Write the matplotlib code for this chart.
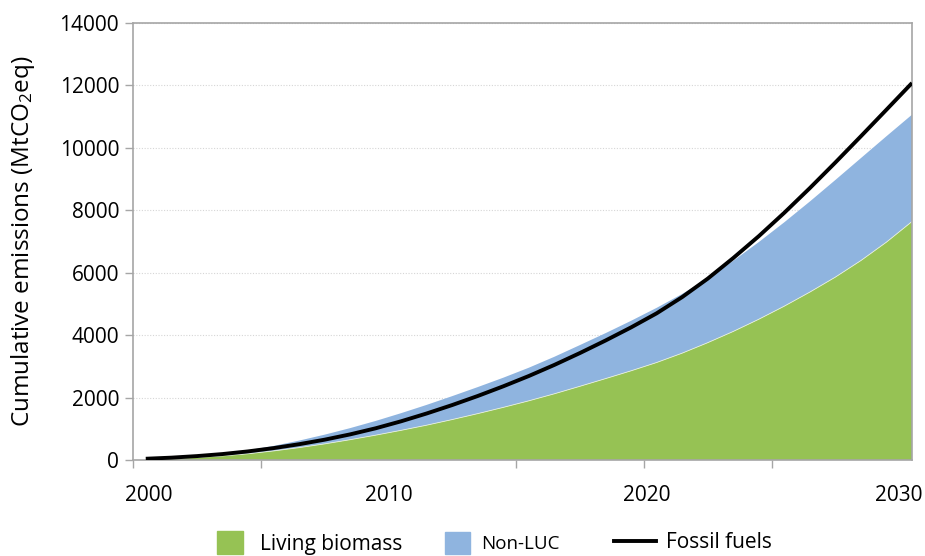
import matplotlib.pyplot as plt
from matplotlib.patches import Patch
from matplotlib.lines import Line2D

years = list(range(2000, 2031))
living_biomass = [10, 40, 80, 130, 200, 290, 395, 515, 650, 795, 950, 1115, 1295, 1485, 1685, 1895,
                  2120, 2360, 2605, 2855, 3120, 3420, 3755, 4115, 4505, 4925, 5375, 5855, 6385, 6975, 7635]
non_luc = [10, 20, 40, 70, 110, 160, 225, 295, 370, 455, 550, 650, 750, 850, 950, 1060,
           1185, 1320, 1455, 1600, 1750, 1895, 2060, 2260, 2470, 2685, 2900, 3110, 3280, 3390, 3420]
fossil_fuels = [40, 75, 125, 190, 275, 380, 505, 650, 820, 1015, 1240, 1490, 1760, 2050, 2360, 2690,
                3045, 3425, 3825, 4245, 4695, 5215, 5805, 6465, 7165, 7915, 8705, 9525, 10365, 11215, 12070]
xtick_labels = ['2000', '2010', '2020', '2030']

green = '#96C254'
blue = '#8FB4DF'
grey = '#A6A6A6'

plt.rcParams['font.family'] = ['Open Sans', 'DejaVu Sans']
plt.rcParams['mathtext.fontset'] = 'custom'
plt.rcParams['mathtext.rm'] = 'Open Sans'
plt.rcParams['mathtext.default'] = 'regular'

fig = plt.figure(figsize=(9.25, 5.56), dpi=100)
ax = fig.add_axes([133 / 925, 1 - 460 / 556, (912 - 133) / 925, (460 - 22.7) / 556])

ax.stackplot(years, living_biomass, non_luc, colors=[green, blue], linewidth=0)
ax.plot(years, living_biomass, color='#E8F0DC', lw=0.6)
ax.plot(years, fossil_fuels, color='black', lw=2.8, solid_capstyle='butt', zorder=5)

ax.set_xlim(1999.5, 2030)
ax.set_ylim(0, 14000)
ax.set_yticks(range(0, 14001, 2000))
ax.grid(axis='y', color='#D6D6D6', linestyle=(0, (1, 1.5)), linewidth=0.8)
ax.set_axisbelow(True)

# tick marks sit between categories, labels are placed separately
ax.set_xticks([1999.5 + 5 * i for i in range(7)], minor=True)
ax.set_xticks([2000.1, 2009.5, 2019.6, 2029.5])
ax.set_xticklabels(xtick_labels)
ax.tick_params(axis='x', which='major', length=0, pad=18, labelsize=15)
ax.tick_params(axis='x', which='minor', length=6, width=1, color=grey, direction='out')
ax.tick_params(axis='y', length=6, width=1, color=grey, pad=4, labelsize=15)

for s in ax.spines.values():
    s.set_color(grey)
    s.set_linewidth(1.2)

ax.set_ylabel('Cumulative emissions (MtCO$_2$eq)', fontsize=17.5, labelpad=16)

fig.legend(handles=[Patch(color=green, label='Living biomass')], loc='center left',
           bbox_to_anchor=(217 / 925, 1 - 543 / 556), frameon=False, fontsize=15,
           handlelength=1.25, handleheight=1.25, handletextpad=0.8, borderpad=0, borderaxespad=0)
fig.legend(handles=[Patch(color=blue, label='Non-LUC')], loc='center left',
           bbox_to_anchor=(445 / 925, 1 - 543 / 556), frameon=False, fontsize=13.5,
           handlelength=1.35, handleheight=1.35, handletextpad=0.6, borderpad=0, borderaxespad=0)
fig.legend(handles=[Line2D([], [], color='black', lw=2.8, label='Fossil fuels')], loc='center left',
           bbox_to_anchor=(614 / 925, 1 - 543 / 556), frameon=False, fontsize=15,
           handlelength=2.0, handletextpad=0.5, borderpad=0, borderaxespad=0)

fig.savefig('out.png', dpi=100)
